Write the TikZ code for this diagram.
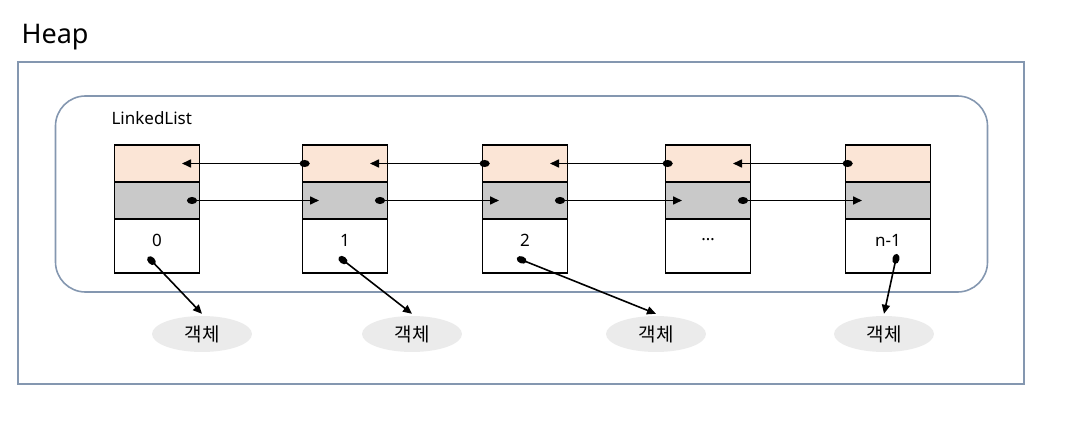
\documentclass[tikz,border=0pt]{standalone}
\usepackage{fontspec}
\setmainfont{Noto Sans}
\newfontfamily\kofont{Noto Sans CJK KR}
\usetikzlibrary{arrows.meta,shapes.geometric}
\definecolor{framegray}{HTML}{8497B0}
\definecolor{prevfill}{HTML}{FBE5D6}
\definecolor{nextfill}{HTML}{C9C9C9}
\definecolor{objfill}{HTML}{EBEBEB}
\tikzset{
  cell/.style={draw=black,line width=1.8pt,minimum width=85pt,inner sep=0pt},
  ptr/.style={line width=1.6pt,{Ellipse[length=10pt,width=7pt]}-{Triangle[length=9pt,width=8pt]}},
  obj/.style={ellipse,fill=objfill,minimum width=100pt,minimum height=36pt,inner sep=0pt,
    font=\kofont\fontsize{19}{22}\selectfont},
  frame/.style={draw=framegray,line width=1.6pt,inner sep=0pt}
}

\begin{document}
\begin{tikzpicture}[x=1pt,y=-1pt]
\useasboundingbox (0,0) rectangle (1074,422);
% containers
\node[anchor=base west,font=\fontsize{27}{30}\selectfont] (heaplbl) at (18,44) {Heap};
\node[frame,minimum width=1006pt,minimum height=322pt] (heap) at (521,223) {};
\node[frame,rounded corners=30pt,minimum width=932pt,minimum height=196pt] (list) at (521.5,194) {};
\node[anchor=base west,font=\fontsize{17}{20}\selectfont] (listlbl) at (108,125) {LinkedList};
% list nodes: prev / next / value
\foreach \i/\x/\v in {0/157/0,1/345/1,2/525/2,3/708/\ldots,4/888/n-1}{
  \node[cell,fill=prevfill,minimum height=37pt] (p\i) at (\x,163.5) {};
  \node[cell,fill=nextfill,minimum height=37pt] (n\i) at (\x,200.5) {};
  \node[cell,fill=white,minimum height=54pt] (v\i) at (\x,246) {};
  \node[font=\fontsize{17}{20}\selectfont] (l\i) at (\x,240) {\v};
}
% prev and next links
\foreach \i/\j in {0/1,1/2,2/3,3/4}{
  \draw[ptr] ([xshift=8pt]p\j.west) -- ([xshift=25pt]p\i.center);
  \draw[ptr] ([xshift=30pt]n\i.center) -- ([xshift=-26pt]n\j.center);
}
% stored objects
\node[obj] (o0) at (202,334) {객체};
\node[obj] (o1) at (412,334) {객체};
\node[obj] (o2) at (656,334) {객체};
\node[obj] (o3) at (884,334) {객체};
\draw[ptr] ([shift={(-9,11)}]v0.center) -- ([shift={(0,-2)}]o0.north);
\draw[ptr] ([shift={(-6,11)}]v1.center) -- ([shift={(0,-2)}]o1.north);
\draw[ptr] ([shift={(-8,12)}]v2.center) -- ([shift={(0,-2)}]o2.north);
\draw[ptr] ([shift={(9,8)}]v4.center) -- ([shift={(0,-2)}]o3.north);
\end{tikzpicture}
\end{document}
